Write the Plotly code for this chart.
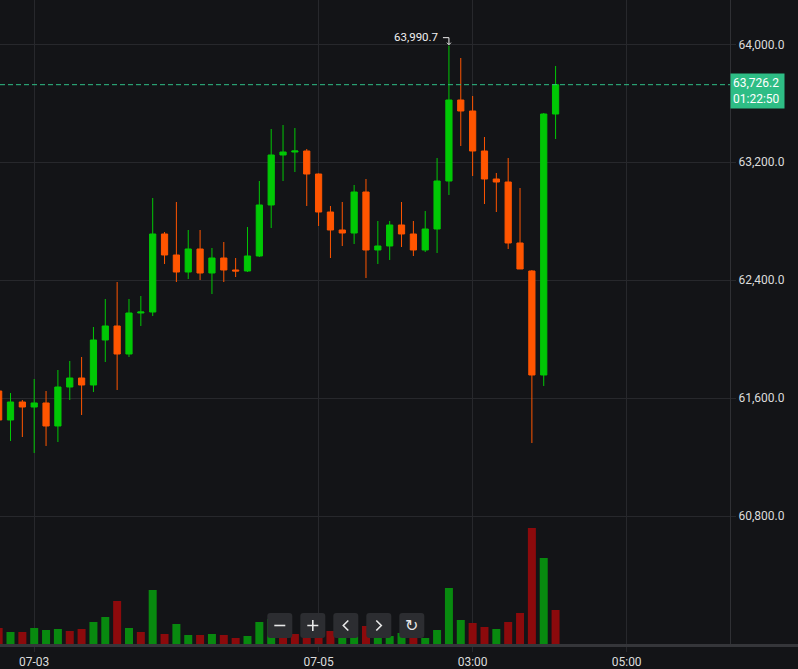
import plotly.graph_objects as go

# ---------------- data ----------------
candle_idx = list(range(48))

opens = [61649.4, 61452.8, 61574.8, 61540.9, 61568.1, 61412.1, 61676.5, 61737.5, 61690.1, 61995.2,
         62090.1, 61900.2, 62178.2, 62185.0, 62713.9, 62571.5, 62456.2, 62612.2, 62449.4, 62551.1,
         62469.8, 62463.0, 62564.7, 62910.5, 63249.5, 63269.8, 63276.6, 63120.6, 62863.0, 62741.0,
         62720.6, 62998.6, 62605.4, 62632.5, 62774.9, 62713.9, 62605.4, 62747.7, 63073.1, 63622.4,
         63547.8, 63276.6, 63086.7, 63066.4, 62652.9, 62463.0, 61757.9, 63527.4]
highs = [61669.7, 61635.8, 61588.4, 61730.7, 61649.4, 61791.8, 61852.8, 61879.9, 62083.3, 62273.1,
         62388.4, 62273.1, 62293.5, 62957.9, 62727.4, 62930.8, 62741.0, 62741.0, 62619.0, 62659.6,
         62551.1, 62761.3, 63073.1, 63425.7, 63452.9, 63432.5, 63290.1, 63124.0, 62903.7, 62930.8,
         63046.0, 63086.7, 62802.0, 62802.0, 62930.8, 62802.0, 62869.8, 63229.1, 63990.7, 63907.1,
         63649.5, 63371.5, 63127.4, 63229.1, 63025.7, 62469.8, 63534.2, 63852.9]
lows = [61418.9, 61310.4, 61337.5, 61229.0, 61276.5, 61303.6, 61588.4, 61486.7, 61642.6, 61846.0,
        61656.2, 61879.9, 62090.1, 62157.9, 62510.5, 62388.4, 62408.7, 62401.9, 62307.0, 62388.4,
        62422.3, 62456.2, 62558.0, 62754.5, 63073.1, 63134.2, 62903.7, 62768.1, 62551.1, 62632.5,
        62646.1, 62415.5, 62510.5, 62537.6, 62625.7, 62564.7, 62591.8, 62585.0, 62978.3, 63310.5,
        63107.0, 62917.2, 62863.0, 62612.2, 62476.6, 61296.8, 61683.3, 63357.9]
closes = [61452.8, 61574.8, 61540.9, 61568.1, 61412.1, 61676.5, 61737.5, 61690.1, 61995.2, 62090.1,
          61900.2, 62178.2, 62185.0, 62713.9, 62571.5, 62456.2, 62612.2, 62449.4, 62551.1, 62469.8,
          62463.0, 62564.7, 62910.5, 63249.5, 63269.8, 63276.6, 63120.6, 62863.0, 62741.0, 62720.6,
          62998.6, 62605.4, 62632.5, 62774.9, 62713.9, 62605.4, 62747.7, 63073.1, 63622.4, 63547.8,
          63276.6, 63086.7, 63066.4, 62652.9, 62476.6, 61757.9, 63527.4, 63726.2]

volumes = [160, 120, 120, 160, 140, 150, 130, 150, 220, 270,
           430, 160, 120, 540, 100, 200, 90, 90, 100, 90,
           60, 80, 220, 250, 120, 100, 100, 100, 130, 80,
           80, 180, 80, 80, 110, 80, 60, 140, 560, 240,
           210, 170, 150, 220, 310, 1160, 860, 340]
volume_up = [0, 1, 0, 1, 1, 1, 0, 0, 1, 1,
             0, 1, 0, 1, 0, 1, 1, 0, 1, 0,
             0, 1, 1, 1, 0, 0, 0, 0, 0, 1,
             1, 0, 1, 1, 1, 0, 1, 1, 1, 1,
             0, 0, 1, 0, 0, 0, 1, 0]

price_ticks = [60800, 61600, 62400, 63200, 64000]
time_tick_idx = [3, 27, 40, 53]
time_tick_text = ["07-03", "07-05", "03:00", "05:00"]
countdown = "01:22:50"

# ---------------- style ----------------
BG = "#131417"
GRID = "#27282c"
TXT = "#dcdcdc"
UP = "#00c805"
DOWN = "#ff5500"
VUP = "#088a0f"
VDOWN = "#8c0a0c"
LAST = "#2ebd85"
FONT = "Roboto"

fig = go.Figure()

fig.add_trace(go.Bar(
    x=candle_idx, y=volumes, yaxis="y2", width=0.675,
    marker=dict(color=[VUP if u else VDOWN for u in volume_up], line=dict(width=0)),
    hoverinfo="skip", showlegend=False,
))

fig.add_trace(go.Candlestick(
    x=candle_idx, open=opens, high=highs, low=lows, close=closes,
    increasing=dict(line=dict(color=UP, width=1), fillcolor=UP),
    decreasing=dict(line=dict(color=DOWN, width=1), fillcolor=DOWN),
    whiskerwidth=0, showlegend=False, hoverinfo="skip",
))

W, H = 798, 669
PW, PH = 730, 644

fig.update_layout(
    width=W, height=H,
    margin=dict(l=0, r=W - PW, t=0, b=H - PH, pad=0),
    paper_bgcolor=BG, plot_bgcolor=BG,
    font=dict(family=FONT, size=12, color=TXT),
    showlegend=False,
    boxgap=0.25,
    xaxis=dict(
        range=[0.114, 61.72], rangeslider=dict(visible=False),
        tickvals=time_tick_idx, ticktext=time_tick_text,
        showgrid=True, gridcolor=GRID, gridwidth=1,
        ticks="outside", ticklen=7, tickcolor=GRID,
        showline=False, zeroline=False,
        tickfont=dict(family=FONT, size=12, color=TXT),
    ),
    yaxis=dict(
        side="right", range=[59934.0, 64300.35],
        tickvals=price_ticks, tickformat=",.1f",
        showgrid=True, gridcolor=GRID, gridwidth=1,
        ticks="outside", ticklen=5, tickcolor=GRID,
        showline=True, linecolor="#2f3034", linewidth=1,
        zeroline=False, ticklabelstandoff=0,
        tickfont=dict(family=FONT, size=12, color=TXT),
    ),
    yaxis2=dict(overlaying="y", range=[0, 6440], visible=False, fixedrange=True),
)

shapes = []
annotations = []

# bottom axis band
shapes.append(dict(type="line", xref="paper", yref="paper", x0=0, x1=W / PW,
                   y0=-1.5 / PH, y1=-1.5 / PH, line=dict(color="#35363a", width=3)))

# last price dashed line + label
last_price = closes[-1]
shapes.append(dict(type="line", xref="paper", yref="y", x0=0, x1=1,
                   y0=last_price, y1=last_price, line=dict(color=LAST, width=1, dash="5px,3px")))
annotations.append(dict(
    xref="paper", yref="y", x=1, y=last_price, xanchor="left", yanchor="top",
    yshift=11.5, xshift=0, showarrow=False, align="left",
    text=f"{last_price:,.1f}<br>{countdown}",
    font=dict(family=FONT, size=12, color="#ffffff"),
    bgcolor=LAST, borderpad=2, width=49,
))

# max high marker
max_i = highs.index(max(highs))
max_v = highs[max_i]
annotations.append(dict(
    xref="x", yref="y", x=max_i, y=max_v, xanchor="right", yanchor="middle",
    xshift=-9, yshift=9, showarrow=False, text=f"{max_v:,.1f}",
    font=dict(family=FONT, size=11.5, color="#f0f0f0"),
))
shapes.append(dict(type="path", xref="x", yref="y", xsizemode="pixel", ysizemode="pixel",
                   xanchor=max_i, yanchor=max_v,
                   path="M -6,8 L 0,8 L 0,1 M -2,3 L 0,1 L 2,3",
                   line=dict(color="#f0f0f0", width=1)))

# navigation buttons
btn_centers = [279.8, 312.8, 345.8, 378.8, 411.8]
btn_y = 625.5
rr = ("M -9.5,-12.5 L 9.5,-12.5 Q 12.5,-12.5 12.5,-9.5 L 12.5,9.5 Q 12.5,12.5 9.5,12.5 "
      "L -9.5,12.5 Q -12.5,12.5 -12.5,9.5 L -12.5,-9.5 Q -12.5,-12.5 -9.5,-12.5 Z")
glyphs = ["M -5.5,0 L 5.5,0", "M -5.5,0 L 5.5,0 M 0,-5.5 L 0,5.5",
          "M 2.5,5 L -2.5,0 L 2.5,-5", "M -2.5,5 L 2.5,0 L -2.5,-5", None]
for cx, g in zip(btn_centers, glyphs):
    xa = cx / PW
    ya = 1 - btn_y / PH
    shapes.append(dict(type="path", xref="paper", yref="paper", xsizemode="pixel", ysizemode="pixel",
                       xanchor=xa, yanchor=ya, path=rr, fillcolor="#2c2d31",
                       line=dict(width=0)))
    if g:
        shapes.append(dict(type="path", xref="paper", yref="paper", xsizemode="pixel", ysizemode="pixel",
                           xanchor=xa, yanchor=ya, path=g, line=dict(color="#e8e8e8", width=1.6)))
    else:
        annotations.append(dict(xref="paper", yref="paper", x=xa, y=ya, xanchor="center",
                                yanchor="middle", showarrow=False, text="↻",
                                font=dict(family="DejaVu Sans", size=16, color="#e8e8e8")))

fig.update_layout(shapes=shapes, annotations=annotations)

fig.write_html("out.html", config={"displayModeBar": False})
